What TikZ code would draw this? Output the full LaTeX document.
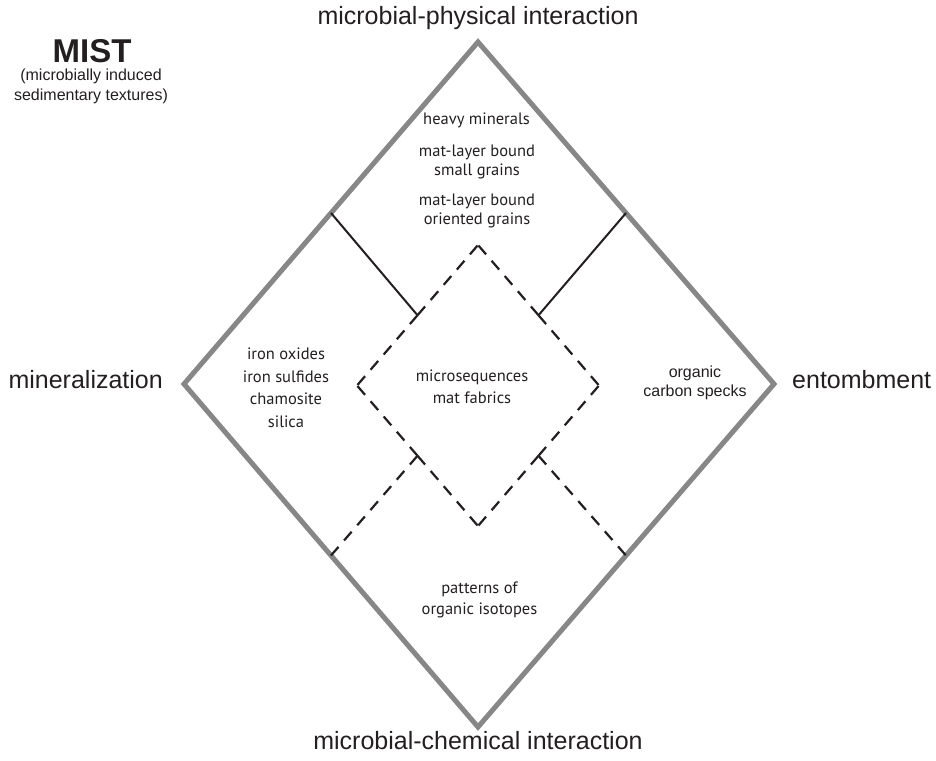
\documentclass[tikz,border=0pt]{standalone}
\usepackage{fontspec}
\setmainfont{Liberation Sans}
\newfontfamily\myr{PT Sans}
\usetikzlibrary{calc}
\definecolor{ink}{RGB}{35,31,32}
\definecolor{framegray}{RGB}{135,135,135}
\tikzset{
  outerframe/.style={draw=framegray, line width=5pt, line join=miter},
  solidlink/.style={draw=ink, line width=2pt},
  dashlink/.style={draw=ink, line width=2.2pt, dash pattern=on 11.6pt off 8.5pt},
  cornerlabel/.style={font=\fontsize{25}{30}\selectfont, text=ink, inner sep=0pt, anchor=base},
  innerlabel/.style={font=\myr\fontsize{16.5}{20}\selectfont, text=ink, inner sep=0pt, anchor=base},
  arialabel/.style={font=\fontsize{16}{19}\selectfont, text=ink, inner sep=0pt, anchor=base},
}
\begin{document}
\begin{tikzpicture}[x=1pt,y=-1pt]
\useasboundingbox (0,0) rectangle (936,760);
% outer diamond
\coordinate (T) at (478,42);
\coordinate (R) at (774,384);
\coordinate (B) at (478,727);
\coordinate (L) at (184,384);
% inner diamond
\coordinate (it) at (478,245);
\coordinate (ir) at (599,385.5);
\coordinate (ib) at (478,526);
\coordinate (il) at (357,385.5);
% midpoints
\coordinate (oUL) at ($(L)!0.5!(T)$);
\coordinate (oUR) at ($(R)!0.5!(T)$);
\coordinate (oLL) at ($(L)!0.5!(B)$);
\coordinate (oLR) at ($(R)!0.5!(B)$);
\coordinate (iUL) at ($(il)!0.5!(it)$);
\coordinate (iUR) at ($(ir)!0.5!(it)$);
\coordinate (iLL) at ($(il)!0.5!(ib)$);
\coordinate (iLR) at ($(ir)!0.5!(ib)$);

\draw[outerframe] (T) -- (R) -- (B) -- (L) -- cycle;

% inner dashed diamond, drawn as half edges from the midpoints
\draw[dashlink] (iUL) -- (it);
\draw[dashlink] (iUR) -- (it);
\draw[dashlink] (iUL) -- (il);
\draw[dashlink] (iLL) -- (il);
\draw[dashlink] (iLL) -- (ib);
\draw[dashlink] (iLR) -- (ib);
\draw[dashlink] (iLR) -- (ir);
\draw[dashlink] (iUR) -- (ir);

% connectors
\draw[solidlink] (oUL) -- (iUL);
\draw[solidlink] (oUR) -- (iUR);
\draw[dashlink] (iLL) -- (oLL);
\draw[dashlink] (iLR) -- (oLR);

% corner labels
\node[cornerlabel] (ltop) at (478,25) {microbial-physical interaction};
\node[cornerlabel] (lbot) at (478,749) {microbial-chemical interaction};
\node[cornerlabel, anchor=base east] (lleft) at (163,388) {mineralization};
\node[cornerlabel, anchor=base west] (lright) at (792,388) {entombment};

% title
\node[font=\bfseries\fontsize{33}{36}\selectfont, text=ink, inner sep=0pt, anchor=base] (mist) at (92,63) {MIST};
\node[arialabel] (mist1) at (91,81) {(microbially induced};
\node[arialabel] (mist2) at (91,100) {sedimentary textures)};

% top sector
\node[innerlabel] (t1) at (476.5,124) {heavy minerals};
\node[innerlabel] (t2) at (477,156) {mat-layer bound};
\node[innerlabel] (t3) at (477,175) {small grains};
\node[innerlabel] (t4) at (477,205) {mat-layer bound};
\node[innerlabel] (t5) at (477,224) {oriented grains};

% left sector
\node[innerlabel] (l1) at (286,359) {iron oxides};
\node[innerlabel] (l2) at (286,382) {iron sulfides};
\node[innerlabel] (l3) at (286,404.5) {chamosite};
\node[innerlabel] (l4) at (286,427) {silica};

% centre
\node[innerlabel] (c1) at (472,381) {microsequences};
\node[innerlabel] (c2) at (472,403) {mat fabrics};

% right sector
\node[arialabel] (r1) at (695,377) {organic};
\node[arialabel] (r2) at (695,396) {carbon specks};

% bottom sector
\node[innerlabel] (b1) at (479.5,593) {patterns of};
\node[innerlabel] (b2) at (479.5,614) {organic isotopes};
\end{tikzpicture}
\end{document}
